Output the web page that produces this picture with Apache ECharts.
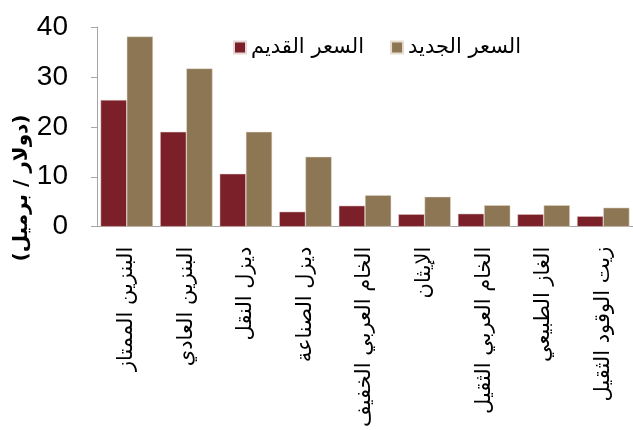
<!DOCTYPE html>
<html><head><meta charset="utf-8">
<script src="https://cdn.jsdelivr.net/npm/echarts@6/dist/echarts.min.js"></script>
<style>html,body{margin:0;padding:0;background:#fff}#c{width:633px;height:430px}</style>
</head><body><div id="c"></div>
<script>
const categories = ['البنزين الممتاز','البنزين العادي','ديزل النقل','ديزل الصناعة','الخام العربي الخفيف','الإيثان','الخام العربي الثقيل','الغاز الطبيعي','زيت الوقود الثقيل'];
const oldPrice = [25.4, 19.0, 10.6, 3.0, 4.2, 2.5, 2.6, 2.5, 2.1];
const newPrice = [38.1, 31.7, 19.0, 14.0, 6.3, 6.0, 4.3, 4.3, 3.8];
const seriesNames = ['السعر القديم','السعر الجديد'];
const yTicks = {min: 0, max: 40, interval: 10};
const yName = '(دولار / برميل)';

const chart = echarts.init(document.getElementById('c'));
chart.setOption({
  animation: false,
  grid: {left: 97, right: 0, top: 27, bottom: 203},
  legend: {
    left: 228, top: 32, itemWidth: 12, itemHeight: 12, itemGap: 26,
    icon: 'rect',
    textStyle: {fontFamily: 'DejaVu Sans', fontSize: 21, color: '#000'},
    data: seriesNames
  },
  graphic: [{
    type: 'text', x: 22, y: 188, rotation: Math.PI / 2,
    style: {text: yName, fontFamily: 'DejaVu Sans', fontSize: 20, fontWeight: 'bold', fill: '#000', align: 'center', verticalAlign: 'middle'}
  }],
  xAxis: {
    type: 'category', data: categories,
    axisLine: {lineStyle: {color: '#a6a6a6'}},
    axisTick: {length: 6, lineStyle: {color: '#a6a6a6'}},
    axisLabel: {rotate: 90, interval: 0, margin: 20, fontFamily: 'DejaVu Sans', fontSize: 21, color: '#000'}
  },
  yAxis: {
    type: 'value', min: yTicks.min, max: yTicks.max, interval: yTicks.interval,
    splitLine: {show: false},
    axisLine: {show: true, lineStyle: {color: '#a6a6a6'}},
    axisTick: {show: true, length: 6, lineStyle: {color: '#a6a6a6'}},
    axisLabel: {fontFamily: 'Liberation Sans', fontSize: 28, color: '#000', margin: 29}
  },
  series: [
    {name: seriesNames[0], type: 'bar', data: oldPrice, barGap: '0%', barCategoryGap: '12%', itemStyle: {color: '#7b2029', borderColor: '#e6d6d6', borderWidth: 0.5}},
    {name: seriesNames[1], type: 'bar', data: newPrice, barGap: '0%', barCategoryGap: '12%', itemStyle: {color: '#8c7654', borderColor: '#e6ddd0', borderWidth: 0.5}}
  ]
});
</script></body></html>
